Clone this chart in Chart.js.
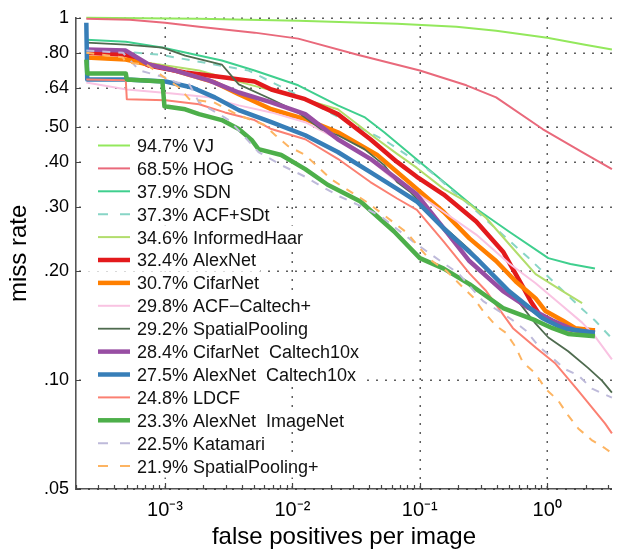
<!DOCTYPE html>
<html><head><meta charset="utf-8">
<script src="https://cdn.jsdelivr.net/npm/chart.js@4.4.0/dist/chart.umd.min.js"></script>
<style>html,body{margin:0;padding:0;background:#fff;overflow:hidden}</style>
</head><body>
<canvas id="c" width="617" height="554"></canvas>
<script>
// ---- data: [false positives per image, miss rate] ----
const seriesLabels = ['94.7% VJ','68.5% HOG','37.9% SDN','37.3% ACF+SDt','34.6% InformedHaar','32.4% AlexNet','30.7% CifarNet','29.8% ACF\u2212Caltech+','29.2% SpatialPooling','28.4% CifarNet  Caltech10x','27.5% AlexNet  Caltech10x','24.8% LDCF','23.3% AlexNet  ImageNet','22.5% Katamari','21.9% SpatialPooling+'];

const VJ = [[2.41e-4,1.0],[1.85e-3,0.994],[0.0111,0.981],[0.0663,0.963],[0.194,0.945],[0.397,0.921],[1.0,0.881],[1.98,0.843],[3.22,0.817]];
const HOG = [[2.41e-4,0.994],[5.29e-4,0.987],[1.0e-3,0.969],[1.85e-3,0.945],[5.04e-3,0.910],[0.0111,0.876],[0.0324,0.791],[0.1,0.715],[0.232,0.651],[0.397,0.603],[0.919,0.493],[1.88,0.426],[3.22,0.382]];
const SDN = [[2.41e-4,0.870],[4.92e-4,0.859],[9.72e-4,0.827],[2.79e-3,0.762],[5.04e-3,0.715],[0.0111,0.651],[0.0227,0.573],[0.0367,0.532],[0.0525,0.483],[0.1,0.400],[0.277,0.297],[0.500,0.257],[1.02,0.217],[1.52,0.209],[2.37,0.203]];
const ACF_SDt = [[2.41e-4,0.822],[9.05e-4,0.791],[4.53e-3,0.715],[0.0111,0.611],[0.0207,0.542],[0.0525,0.460],[0.104,0.392],[0.136,0.364],[0.184,0.331],[0.254,0.301],[0.716,0.217],[0.970,0.196],[1.88,0.157],[2.37,0.146],[3.10,0.132]];
const InformedHaar = [[2.41e-4,0.772],[4.67e-4,0.767],[9.05e-4,0.743],[1.85e-3,0.715],[4.53e-3,0.655],[0.0111,0.603],[0.0227,0.559],[0.0409,0.477],[0.0663,0.421],[0.0948,0.385],[0.154,0.337],[0.232,0.311],[0.332,0.280],[0.567,0.226],[0.811,0.196],[1.32,0.176],[1.88,0.163]];
const AlexNet = [[2.41e-4,0.801],[4.92e-4,0.791],[7.43e-4,0.738],[1.44e-3,0.706],[2.95e-3,0.684],[5.04e-3,0.667],[6.83e-3,0.634],[0.0126,0.596],[0.0227,0.542],[0.0409,0.462],[0.0663,0.400],[0.0948,0.364],[0.154,0.325],[0.277,0.274],[0.450,0.226],[0.643,0.181],[0.742,0.165],[0.887,0.150],[1.02,0.146],[1.46,0.138],[2.37,0.137]];
const CifarNet = [[2.41e-4,0.777],[4.92e-4,0.767],[7.43e-4,0.743],[1.06e-3,0.724],[2.46e-3,0.663],[3.79e-3,0.615],[6.83e-3,0.559],[0.0126,0.525],[0.0227,0.483],[0.0463,0.418],[0.0948,0.337],[0.154,0.291],[0.245,0.246],[0.397,0.213],[0.567,0.187],[0.811,0.168],[0.970,0.155],[1.32,0.146],[1.66,0.139],[2.37,0.137]];
const ACF_Caltech = [[2.41e-4,0.663],[5.01e-4,0.634],[1.14e-3,0.618],[2.21e-3,0.603],[3.79e-3,0.573],[6.83e-3,0.548],[0.0126,0.515],[0.0227,0.462],[0.0409,0.405],[0.0663,0.352],[0.0948,0.327],[0.154,0.291],[0.277,0.252],[0.500,0.210],[0.811,0.185],[1.32,0.160],[1.88,0.144],[2.37,0.132],[3.22,0.114]];
const SpatialPooling = [[2.41e-4,0.854],[4.92e-4,0.843],[9.54e-4,0.827],[1.44e-3,0.786],[2.79e-3,0.743],[3.79e-3,0.655],[6.83e-3,0.596],[0.0111,0.548],[0.0167,0.493],[0.0227,0.474],[0.0367,0.434],[0.0525,0.392],[0.0663,0.352],[0.0836,0.331],[0.154,0.265],[0.245,0.229],[0.397,0.191],[0.567,0.168],[0.811,0.143],[1.02,0.131],[1.46,0.120],[2.09,0.108],[2.69,0.0996],[3.22,0.0923]];
const CifarNet10x = [[2.41e-4,0.817],[4.92e-4,0.812],[7.43e-4,0.743],[1.20e-3,0.715],[2.21e-3,0.672],[3.79e-3,0.622],[6.83e-3,0.584],[0.0126,0.542],[0.0227,0.462],[0.0409,0.408],[0.0663,0.359],[0.0948,0.325],[0.154,0.262],[0.245,0.213],[0.450,0.176],[0.716,0.158],[1.10,0.146],[1.66,0.137],[2.37,0.135]];
const AlexNet10x = [[2.41e-4,0.969],[2.45e-4,0.676],[4.92e-4,0.676],[1.01e-3,0.667],[1.63e-3,0.642],[2.46e-3,0.603],[3.79e-3,0.556],[6.83e-3,0.515],[0.0126,0.474],[0.0227,0.426],[0.0409,0.375],[0.0663,0.337],[0.0948,0.311],[0.154,0.262],[0.277,0.217],[0.500,0.176],[0.919,0.148],[1.32,0.139],[2.37,0.135]];
const LDCF = [[2.41e-4,0.676],[4.92e-4,0.672],[5.01e-4,0.596],[1.01e-3,0.592],[1.85e-3,0.577],[2.95e-3,0.548],[5.04e-3,0.522],[6.83e-3,0.493],[0.0126,0.462],[0.0227,0.408],[0.0409,0.352],[0.0663,0.317],[0.0948,0.295],[0.154,0.241],[0.245,0.197],[0.332,0.176],[0.538,0.139],[0.811,0.123],[1.16,0.111],[1.75,0.0935],[2.25,0.0839],[2.84,0.0759],[3.22,0.0712]];
const AlexNetImageNet = [[2.41e-4,0.767],[2.45e-4,0.702],[4.92e-4,0.702],[5.01e-4,0.676],[9.54e-4,0.667],[9.89e-4,0.570],[1.44e-3,0.559],[1.85e-3,0.542],[2.79e-3,0.522],[3.79e-3,0.493],[4.78e-3,0.460],[5.41e-3,0.434],[8.17e-3,0.418],[0.0126,0.382],[0.0189,0.346],[0.0342,0.311],[0.0628,0.257],[0.1,0.217],[0.154,0.203],[0.245,0.184],[0.450,0.158],[0.811,0.146],[1.10,0.139],[1.46,0.134],[2.37,0.132]];
const Katamari = [[2.41e-4,0.812],[4.67e-4,0.801],[6.32e-4,0.715],[1.01e-3,0.684],[1.23e-3,0.663],[1.55e-3,0.655],[1.85e-3,0.584],[3.17e-3,0.522],[4.22e-3,0.469],[5.41e-3,0.426],[8.17e-3,0.392],[0.0126,0.364],[0.0173,0.341],[0.0235,0.321],[0.0324,0.305],[0.0489,0.284],[0.0898,0.240],[0.154,0.210],[0.201,0.197],[0.314,0.165],[0.418,0.155],[0.538,0.146],[0.678,0.137],[0.856,0.124],[1.10,0.115],[1.39,0.107],[1.75,0.103],[2.25,0.0946],[3.22,0.0894]];
const SpatialPoolingPlus = [[2.41e-4,0.801],[4.67e-4,0.777],[4.92e-4,0.752],[7.17e-4,0.743],[9.89e-4,0.684],[1.29e-3,0.642],[1.55e-3,0.596],[2.42e-3,0.584],[3.79e-3,0.538],[5.92e-3,0.508],[7.34e-3,0.474],[9.26e-3,0.442],[0.0126,0.418],[0.0158,0.388],[0.0200,0.359],[0.0271,0.335],[0.0388,0.309],[0.0793,0.255],[0.100,0.231],[0.120,0.215],[0.162,0.200],[0.205,0.184],[0.263,0.169],[0.314,0.155],[0.397,0.141],[0.474,0.135],[0.567,0.123],[0.643,0.112],[0.811,0.104],[0.970,0.0946],[1.22,0.0877],[1.46,0.0798],[1.75,0.0735],[2.25,0.0681],[2.84,0.0648],[3.22,0.0628]];

const seriesData = [VJ,HOG,SDN,ACF_SDt,InformedHaar,AlexNet,CifarNet,ACF_Caltech,SpatialPooling,CifarNet10x,AlexNet10x,LDCF,AlexNetImageNet,Katamari,SpatialPoolingPlus];

const xTickValues = [1e-3, 1e-2, 1e-1, 1];
const xTickLabels = ['10\u207B\u00B3', '10\u207B\u00B2', '10\u207B\u00B9', '10\u2070'];
const yTickValues = [0.05, 0.10, 0.20, 0.30, 0.40, 0.50, 0.64, 0.80, 1];
const yTickLabels = ['.05', '.10', '.20', '.30', '.40', '.50', '.64', '.80', '1'];

// ---- styles ----
const seriesColors = ['#93E85C','#E9697B','#3FCF8E','#88D5C6','#B2DD6C','#E31A1C','#FF7F00','#F9C3E2','#4F6B4F','#984EA3','#377EB8','#FB8072','#4DAF4A','#BEBADA','#FDB462'];
const seriesWidths = [2,2,2,2,2,4.5,4.5,2,1.8,4.5,4.5,2,4.5,2,2];
const seriesDashed = [false,false,false,true,false,false,false,false,false,false,false,false,false,true,true];

const FONT = "'Liberation Sans', Arial, Helvetica, sans-serif";
Chart.defaults.font.family = FONT;
Chart.defaults.color = '#000';

const X_MIN = 2e-4, X_MAX = 3.22;
const LEG = { x0: 98, x1: 130, tx: 137, y0: 145.5, dy: 22.9, font: '18px ' + FONT };
function isDecade(v){ const l = Math.log10(v); return Math.abs(l - Math.round(l)) < 1e-6; }
function xLabel(v){ for (let i=0;i<xTickValues.length;i++){ if (Math.abs(Math.log10(v)-Math.log10(xTickValues[i]))<1e-6) return xTickLabels[i]; } return ''; }
function allXTicks(){
  const t = [];
  for (let d=-4; d<=0; d++){ for (let k=1;k<=9;k++){ const v = k*Math.pow(10,d); if (v>=X_MIN*0.999 && v<=X_MAX) t.push(+v.toPrecision(6)); } }
  return t;
}

const datasets = seriesData.map((d,i)=>({
  label: seriesLabels[i],
  data: d.map(p=>({x:p[0], y:p[1]})),
  showLine: true,
  borderColor: seriesColors[i],
  backgroundColor: seriesColors[i],
  borderWidth: seriesWidths[i],
  borderDash: seriesDashed[i] ? [8,8] : [],
  borderJoinStyle: 'round',
  pointRadius: 0,
  tension: 0,
  fill: false,
  clip: 6,
  order: seriesData.length - i
}));

// dotted MATLAB-style grid + inward tick marks, drawn through the chart's own scales
const gridAndTicks = {
  id: 'gridAndTicks',
  beforeDatasetsDraw(chart){
    const {ctx, chartArea: a, scales: {x, y}} = chart;
    ctx.save();
    ctx.fillStyle = '#2a2a2a';
    for (const v of xTickValues){
      const px = Math.round(x.getPixelForValue(v));
      for (let yy = a.bottom - 2; yy >= a.top; yy -= 9) ctx.fillRect(px - 0.5, yy - 0.75, 1.5, 1.5);
    }
    for (const v of yTickValues){
      const py = Math.round(y.getPixelForValue(v));
      for (let xx = a.left + 4; xx <= a.right; xx += 9) ctx.fillRect(xx - 0.75, py - 0.5, 1.5, 1.5);
    }
    // legend rows sit on white boxes that hide the grid behind the text
    ctx.font = LEG.font;
    ctx.fillStyle = '#fff';
    chart.data.datasets.forEach((ds, i) => {
      const yy = LEG.y0 + i*LEG.dy;
      const w = ctx.measureText(ds.label).width;
      ctx.fillRect(88, yy - LEG.dy/2, LEG.tx + w + 4 - 88, LEG.dy);
    });
    ctx.restore();
  },
  afterDraw(chart){
    const {ctx, chartArea: a, scales: {x, y}} = chart;
    ctx.save();
    ctx.strokeStyle = '#444'; ctx.lineWidth = 1.2;
    ctx.beginPath();
    for (const t of x.ticks){
      const px = Math.round(x.getPixelForValue(t.value)) + 0.5;
      const len = isDecade(t.value) ? 6 : 4;
      ctx.moveTo(px, a.bottom); ctx.lineTo(px, a.bottom - len);
    }
    for (const t of y.ticks){
      const py = Math.round(y.getPixelForValue(t.value)) + 0.5;
      ctx.moveTo(a.left, py); ctx.lineTo(a.left + 5, py);
    }
    ctx.stroke();
    ctx.restore();
  }
};

const insideLegend = {
  id: 'insideLegend',
  afterDatasetsDraw(chart){
    const ctx = chart.ctx;
    ctx.save();
    ctx.font = LEG.font;
    ctx.textBaseline = 'middle';
    ctx.textAlign = 'left';
    chart.data.datasets.forEach((ds, i) => {
      const yy = LEG.y0 + i*LEG.dy;
      ctx.strokeStyle = ds.borderColor;
      ctx.lineWidth = ds.borderWidth;
      ctx.setLineDash(ds.borderDash && ds.borderDash.length ? [10,12] : []);
      ctx.beginPath(); ctx.moveTo(LEG.x0, yy); ctx.lineTo(LEG.x1, yy); ctx.stroke();
      ctx.setLineDash([]);
      ctx.fillStyle = '#111';
      ctx.fillText(ds.label, LEG.tx, yy + 1.5);
    });
    ctx.restore();
  }
};

new Chart(document.getElementById('c'), {
  type: 'scatter',
  data: { datasets },
  options: {
    responsive: false,
    devicePixelRatio: 1,
    animation: false,
    layout: { padding: { top: 15, right: 0, bottom: 0, left: 0 } },
    plugins: { legend: { display: false }, tooltip: { enabled: false } },
    scales: {
      x: {
        type: 'logarithmic', min: X_MIN, max: X_MAX,
        afterBuildTicks: s => { s.ticks = allXTicks().map(v => ({ value: v })); },
        afterFit: s => { s.height = 65; },
        ticks: { autoSkip: false, maxRotation: 0, minRotation: 0, padding: 9, font: { size: 20 }, color: '#000', callback: v => xLabel(v) },
        grid: { display: true, drawOnChartArea: false, drawTicks: false, color: 'rgba(0,0,0,0)' },
        border: { display: true, color: '#555', width: 1.6 },
        title: { display: true, text: 'false positives per image', font: { size: 24 }, color: '#000', padding: { top: 0, bottom: 2 } }
      },
      y: {
        type: 'logarithmic', min: 0.05, max: 1,
        afterBuildTicks: s => { s.ticks = yTickValues.map(v => ({ value: v })); },
        afterFit: s => { s.width = 76; },
        ticks: { autoSkip: false, padding: 7, font: { size: 18 }, color: '#000', callback: (v, i) => yTickLabels[i] },
        grid: { display: true, drawOnChartArea: false, drawTicks: false, color: 'rgba(0,0,0,0)' },
        border: { display: true, color: '#555', width: 1.6 },
        title: { display: true, text: 'miss rate', font: { size: 24 }, color: '#000', padding: { top: 5, bottom: 0 } }
      }
    }
  },
  plugins: [gridAndTicks, insideLegend]
});
</script>
</body></html>
